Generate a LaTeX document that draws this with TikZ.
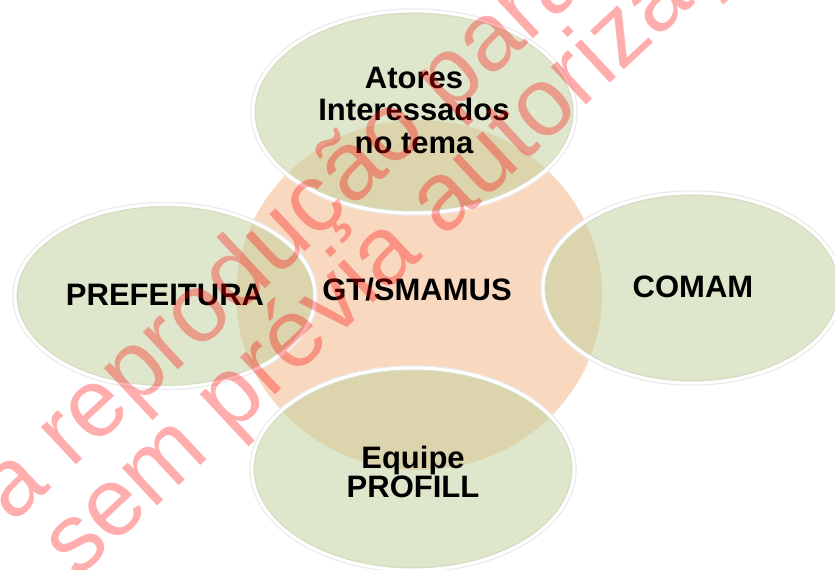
\documentclass[tikz,border=0pt]{standalone}
\usepackage{fontspec}
\setmainfont{Liberation Sans}
\usetikzlibrary{shapes.geometric}
\definecolor{orangefill}{RGB}{248,217,192}
\definecolor{greenfill}{RGB}{194,208,157}
\begin{document}
\begin{tikzpicture}[x=1pt,y=-1pt,
  outer/.style={ellipse, inner sep=0pt, fill=greenfill, fill opacity=0.53, draw=white, line width=3pt,
    preaction={draw=black!8, line width=5.5pt}},
  hub/.style={ellipse, inner sep=0pt, fill=orangefill},
  lbl/.style={font=\fontsize{31}{32.5}\selectfont\bfseries, text=black, inner sep=0pt, anchor=base},
  wmark/.style={font=\fontsize{97}{97}\selectfont, text=red, text opacity=0.32, inner sep=0pt, anchor=base west}]
\useasboundingbox (0,0) rectangle (835,570);
\fill[white] (0,0) rectangle (835,570);
% central shape
\node[hub, minimum width=366pt, minimum height=350pt] (hubshape) at (419,295) {};
% outer ellipses
\node[outer, minimum width=322pt, minimum height=202pt] (topE) at (414,112) {};
\node[outer, minimum width=300pt, minimum height=183pt] (leftE) at (165,296) {};
\node[outer, minimum width=298pt, minimum height=190pt] (rightE) at (692,288) {};
\node[outer, minimum width=322pt, minimum height=202pt] (bottomE) at (413,469) {};
% labels
\node[lbl] (atores) at (414,88) {\begin{tabular}[t]{@{}c@{}}Atores\\Interessados\\no tema\end{tabular}};
\node[lbl] (prefeitura) at (165,305) {PREFEITURA};
\node[lbl] (gt) at (417,300) {GT/SMAMUS};
\node[lbl] (comam) at (693,297) {COMAM};
\node[lbl] (equipe) at (413,468) {\begin{tabular}[t]{@{}c@{}}Equipe\\[-3.5pt]PROFILL\end{tabular}};
% watermark
\begin{scope}
\clip (0,0) rectangle (835,570);
\node[wmark, rotate=43] (wm1) at (12,525) {a reprodução para};
\node[wmark, rotate=43] (wm2) at (77,580) {sem prévia autorização};
\end{scope}
\end{tikzpicture}
\end{document}
